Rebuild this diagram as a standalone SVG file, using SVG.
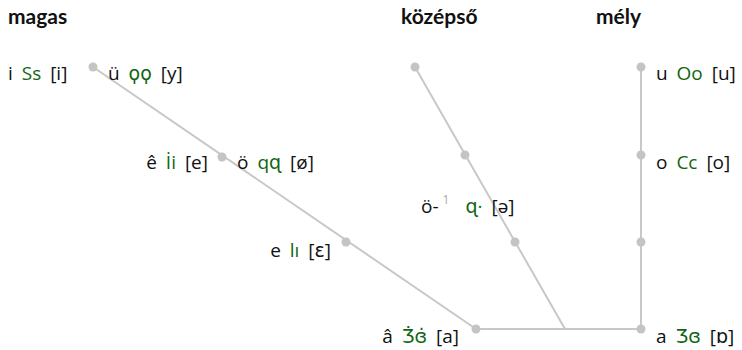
<svg xmlns="http://www.w3.org/2000/svg" width="742" height="350" viewBox="0 0 742 350">
<style>
.h{font-family:Lato,"Open Sans","DejaVu Sans",sans-serif;font-weight:bold;font-size:21px;fill:#111}
.t{font-family:"Open Sans","DejaVu Sans",sans-serif;font-size:19px;word-spacing:4px;fill:#111}
.g{fill:#116611}
.sup{font-size:12px;fill:#aaaaaa}
.ln{stroke:#c8c8c8;stroke-width:2;fill:none}
.d{fill:#c4c4c4}
</style>
<rect width="742" height="350" fill="#ffffff"/>
<g id="headers">
<text class="h" x="8" y="24">magas</text>
<text class="h" x="401" y="24">középső</text>
<text class="h" x="596" y="24">mély</text>
</g>
<g id="connectors">
<line class="ln" x1="93" y1="67" x2="476" y2="329"/>
<line class="ln" x1="415" y1="67" x2="565" y2="329"/>
<line class="ln" x1="641" y1="67" x2="641" y2="329"/>
<line class="ln" x1="476" y1="329" x2="641" y2="329"/>
</g>
<g id="node-i"><text class="t" x="8" y="80">i <tspan class="g">Ss</tspan> [i]</text></g>
<g id="node-u-umlaut"><circle class="d" cx="93" cy="67" r="4.5"/><text class="t" x="108" y="80">ü <tspan class="g">ϙϙ</tspan> [y]</text></g>
<g id="node-e-circ"><text class="t" x="208" y="169" text-anchor="end">ê <tspan class="g">İi</tspan> [e]</text></g>
<g id="node-o-umlaut"><circle class="d" cx="222" cy="157" r="4.5"/><text class="t" x="237" y="169">ö <tspan class="g">qɋ</tspan> [ø]</text></g>
<g id="node-e"><circle class="d" cx="346" cy="242" r="4.5"/><text class="t" x="331" y="257" text-anchor="end">e <tspan class="g">lı</tspan> [ɛ]</text></g>
<g id="node-a-circ"><circle class="d" cx="476" cy="329" r="4.5"/><text class="t" x="459" y="343" text-anchor="end">â <tspan class="g">Ʒ̇ɞ̇</tspan> [a]</text></g>
<g id="node-mid-top"><circle class="d" cx="415" cy="67" r="4.5"/></g>
<g id="node-mid-1"><circle class="d" cx="465" cy="155" r="4.5"/></g>
<g id="node-schwa"><circle class="d" cx="515" cy="242" r="4.5"/><text class="t" x="421" y="213">ö-<tspan class="sup" dx="4" dy="-9">1</tspan><tspan class="g" dx="16" dy="9">ɋ·</tspan><tspan dx="9">[ə]</tspan></text></g>
<g id="node-u"><circle class="d" cx="641" cy="67" r="4.5"/><text class="t" x="656" y="80">u <tspan class="g">Oo</tspan> [u]</text></g>
<g id="node-o"><circle class="d" cx="641" cy="155" r="4.5"/><text class="t" x="656" y="169">o <tspan class="g">Cc</tspan> [o]</text></g>
<g id="node-deep-3"><circle class="d" cx="641" cy="242" r="4.5"/></g>
<g id="node-a"><circle class="d" cx="641" cy="329" r="4.5"/><text class="t" x="656" y="343">a <tspan class="g">Ʒɞ</tspan> [ɒ]</text></g>
</svg>
